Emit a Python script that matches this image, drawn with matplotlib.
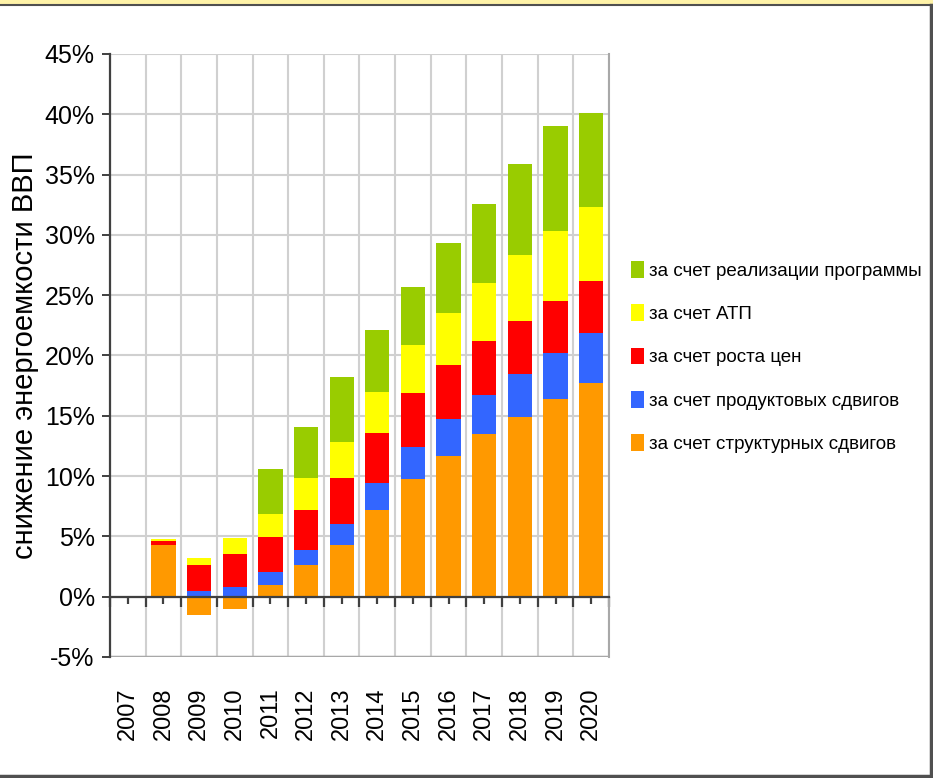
import matplotlib
matplotlib.use('Agg')
import matplotlib.pyplot as plt
import matplotlib.patches as patches
from matplotlib.lines import Line2D
import numpy as np

plt.rcParams['font.family'] = ['Liberation Sans', 'DejaVu Sans']

years = ['2007', '2008', '2009', '2010', '2011', '2012', '2013',
         '2014', '2015', '2016', '2017', '2018', '2019', '2020']

# segment values, % (stack order bottom -> top)
structural = [0, 4.3, -1.5, -1.0, 1.0, 2.6, 4.3, 7.15, 9.8, 11.7, 13.45, 14.9, 16.4, 17.7]
product = [0, 0, 0.5, 0.8, 1.05, 1.3, 1.7, 2.25, 2.65, 3.0, 3.25, 3.6, 3.8, 4.2]
prices = [0, 0.35, 2.1, 2.75, 2.9, 3.3, 3.85, 4.2, 4.45, 4.5, 4.5, 4.4, 4.3, 4.3]
atp = [0, 0.1, 0.65, 1.35, 1.9, 2.65, 2.95, 3.4, 3.95, 4.3, 4.85, 5.4, 5.8, 6.1]
program = [0, 0, 0, 0, 3.75, 4.2, 5.4, 5.1, 4.85, 5.85, 6.55, 7.6, 8.7, 7.8]

series = [
    ('за счет структурных сдвигов', structural, '#FF9900'),
    ('за счет продуктовых сдвигов', product, '#3366FF'),
    ('за счет роста цен', prices, '#FF0000'),
    ('за счет АТП', atp, '#FFFF00'),
    ('за счет реализации программы', program, '#99CC00'),
]

fig = plt.figure(figsize=(9.33, 7.78), dpi=100)
ax = fig.add_axes([110 / 933, 1 - 657 / 778, 499 / 933, 603 / 778])

x = np.arange(len(years))
pos_bottom = np.zeros(len(years))
neg_bottom = np.zeros(len(years))
handles = []
for name, vals, color in series:
    v = np.array(vals, dtype=float)
    bottom = np.where(v >= 0, pos_bottom, neg_bottom)
    b = ax.bar(x, v, 0.68, bottom=bottom, color=color, edgecolor='none',
               label=name, zorder=3)
    handles.append(b)
    pos_bottom += np.where(v >= 0, v, 0)
    neg_bottom += np.where(v < 0, v, 0)

ax.set_xlim(-0.5, len(years) - 0.5)
ax.set_ylim(-5, 45)
ax.set_yticks(np.arange(-5, 46, 5))
ax.set_yticklabels(['%d%%' % t for t in range(-5, 46, 5)], fontsize=18)

# category boundaries for grid, zero axis ticks
ax.set_xticks(np.arange(-0.5, len(years), 1))
ax.set_xticks(x, minor=True)
ax.set_xticklabels([])
ax.grid(True, which='major', color='#D0D0D0', linewidth=1.5, zorder=0)
ax.set_axisbelow(True)

ax.spines['bottom'].set_position(('data', 0))
ax.spines['bottom'].set_color('#404040')
ax.spines['bottom'].set_linewidth(1.6)
ax.spines['bottom'].set_zorder(4)
ax.spines['left'].set_color('#404040')
ax.spines['left'].set_linewidth(1.6)
ax.spines['top'].set_visible(False)
ax.spines['right'].set_color('#A8A8A8')
ax.spines['right'].set_linewidth(1.5)
ax.axhline(-5, color='#A8A8A8', linewidth=2.5, zorder=1)

ax.tick_params(axis='x', which='major', direction='out', length=7, width=1.6, color='#404040')
ax.tick_params(axis='x', which='minor', direction='out', length=5, width=1.6, color='#404040')
ax.tick_params(axis='y', direction='out', length=6, width=1.4, color='#404040', pad=5)

sec = ax.secondary_xaxis('bottom')
sec.set_xticks(x)
sec.set_xticklabels(years, rotation=90, fontsize=17)
sec.tick_params(length=0, pad=22)
sec.spines['bottom'].set_visible(False)

ax.yaxis.set_label_coords(-0.142, 0.53)
ax.set_ylabel('снижение энергоемкости ВВП', fontsize=21)

fig.legend(handles[::-1], [s[0] for s in series][::-1], loc='center left',
           bbox_to_anchor=(631 / 933, 1 - 357 / 778), frameon=False, fontsize=13.5,
           borderaxespad=0, borderpad=0, handlelength=0.68, handleheight=1.0,
           handletextpad=0.3, labelspacing=1.3)

# outer frame
fig.add_artist(patches.Rectangle((0, 1 - 4 / 778), 1, 4 / 778, transform=fig.transFigure,
                                 facecolor='#FFF3A8', edgecolor='none'))
fig.add_artist(Line2D([0, 1], [1 - 4.5 / 778, 1 - 4.5 / 778], transform=fig.transFigure,
                      color='#505050', linewidth=1.5))
fig.add_artist(Line2D([0, 1], [2 / 778, 2 / 778], transform=fig.transFigure,
                      color='#505050', linewidth=2.5))
fig.add_artist(Line2D([1 - 2 / 933, 1 - 2 / 933], [0, 1 - 4.5 / 778], transform=fig.transFigure,
                      color='#505050', linewidth=2.5))

fig.savefig('out.png', dpi=100)
